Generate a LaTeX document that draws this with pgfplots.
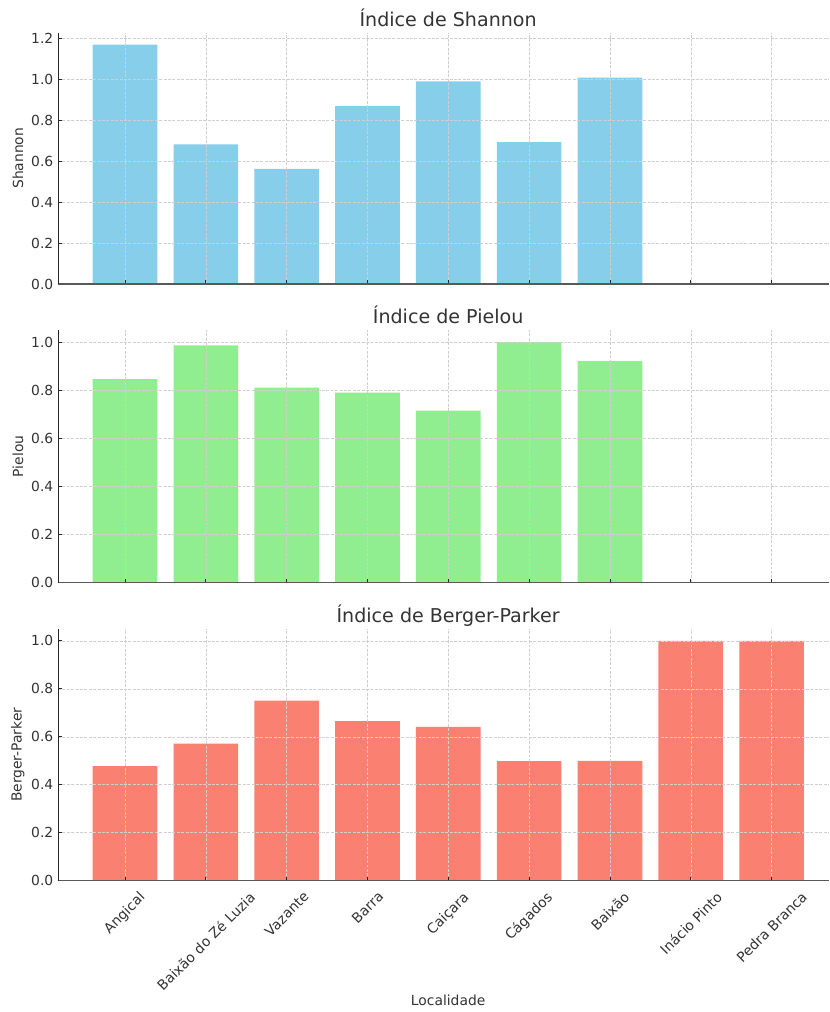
\documentclass[border=0pt]{standalone}
\usepackage{fontspec}
\setmainfont{DejaVu Sans}
\usepackage{graphicx}
\usepackage{pgfplots}
\pgfplotsset{compat=1.18}
\definecolor{skyblue}{HTML}{87CEEB}
\definecolor{lightgreen}{HTML}{90EE90}
\definecolor{salmon}{HTML}{FA8072}
\definecolor{txt}{HTML}{333333}
\definecolor{gridc}{HTML}{CFCFCF}

\pgfplotsset{
  myax/.style={
    scale only axis, width=578.25pt,
    xmin=-0.829, xmax=8.71, ymin=0,
    axis x line*=bottom, axis y line*=left,
    x axis line style={black!65, line width=1.0pt, -},
    y axis line style={black!85, line width=0.7pt, -},
    tick align=inside, major tick length=3pt,
    tick style={black!85, line width=0.7pt},
    xtick={0,...,8},
    grid=major,
    major grid style={gridc, line width=0.45pt, dash pattern=on 2.2pt off 1.1pt},
    axis on top,
    tick label style={font=\fontsize{10.4}{12}\selectfont, text=txt},
    label style={font=\fontsize{10.4}{12}\selectfont, text=txt},
    title style={font=\fontsize{14.3}{17}\selectfont, text=txt,
      at={(axis description cs:0.506,1)}, anchor=base, yshift=-1.2pt},
    ylabel style={at={(axis description cs:-0.052,0.5)}, anchor=center},
    /pgf/number format/fixed,
    /pgf/number format/fixed zerofill,
    /pgf/number format/precision=1,
    /pgf/number format/assume math mode=true,
  }
}

\begin{document}
\begin{tikzpicture}
\path[use as bounding box] (0,0) rectangle (621.75pt,-759pt);

% Shannon
\begin{axis}[myax,
  at={(43.5pt,-213pt)}, anchor=south west, height=188.5pt,
  ymax=1.23, ytick={0,0.2,0.4,0.6,0.8,1.0,1.2},
  xticklabels={,,,,,,,,},
  title={Índice de Shannon}, ylabel={Shannon}]
\addplot[ybar, bar width=0.8, fill=skyblue, draw=none] coordinates {
  (0,1.171) (1,0.683) (2,0.564) (3,0.870) (4,0.992) (5,0.694) (6,1.010)};
\end{axis}

% Pielou
\begin{axis}[myax,
  at={(43.5pt,-437pt)}, anchor=south west, height=189.5pt,
  ymax=1.05, ytick={0,0.2,0.4,0.6,0.8,1.0},
  xticklabels={,,,,,,,,},
  title={Índice de Pielou}, ylabel={Pielou}]
\addplot[ybar, bar width=0.8, fill=lightgreen, draw=none] coordinates {
  (0,0.846) (1,0.986) (2,0.811) (3,0.790) (4,0.715) (5,1.000) (6,0.922)};
\end{axis}

% Berger-Parker
\begin{axis}[myax,
  at={(43.5pt,-660.5pt)}, anchor=south west, height=188.8pt,
  ymax=1.05, ytick={0,0.2,0.4,0.6,0.8,1.0},
  xticklabels={\rotatebox{45}{Angical},\rotatebox{45}{Baixão do Zé Luzia},\rotatebox{45}{Vazante},\rotatebox{45}{Barra},\rotatebox{45}{Caiçara},\rotatebox{45}{Cágados},\rotatebox{45}{Baixão},\rotatebox{45}{Inácio Pinto},\rotatebox{45}{Pedra Branca}},
  xticklabel style={anchor=north, yshift=-4pt},
  xlabel={Localidade},
  xlabel style={at={(axis description cs:0.506,0)}, anchor=center, yshift=-89.5pt},
  title={Índice de Berger-Parker}, ylabel={Berger-Parker}]
\addplot[ybar, bar width=0.8, fill=salmon, draw=none] coordinates {
  (0,0.478) (1,0.572) (2,0.751) (3,0.666) (4,0.641) (5,0.499) (6,0.500) (7,1.000) (8,1.000)};
\end{axis}
\end{tikzpicture}
\end{document}
